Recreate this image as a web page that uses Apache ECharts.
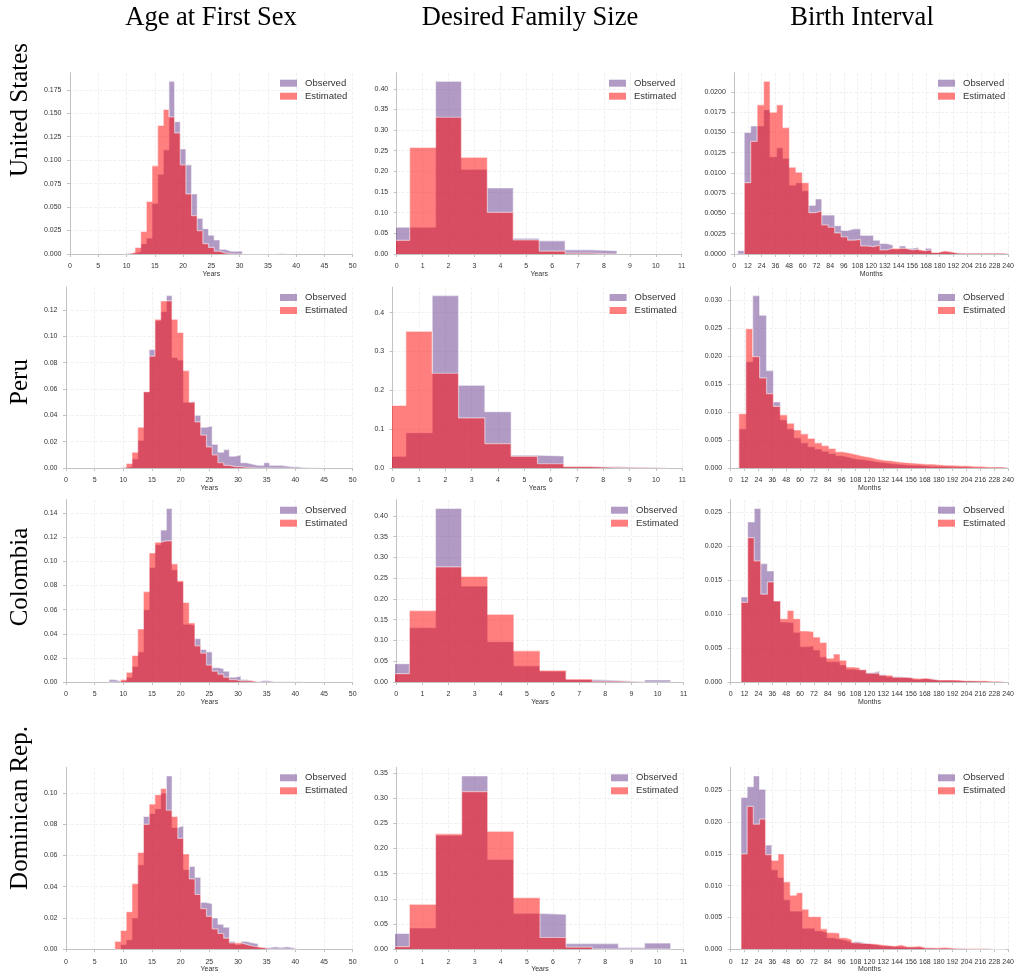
<!DOCTYPE html>
<html><head><meta charset="utf-8">
<script src="https://cdn.jsdelivr.net/npm/echarts@6/dist/echarts.min.js"></script>
<style>html,body{margin:0;padding:0;background:#fff}#c{width:1017px;height:974px}</style>
</head><body><div id="c"></div><script>
const countries = ['United States', 'Peru', 'Colombia', 'Dominican Rep.'];
const columnTitles = ['Age at First Sex', 'Desired Family Size', 'Birth Interval'];
const xNames = ['Years', 'Years', 'Months'];
const seriesNames = ['Observed', 'Estimated'];

// ---- Age at first sex (1-year bins) ----
const ageBinWidth = 1;
const ageBinStart = [9.5, 9.5, 7.5, 8.5];
const usAgeObs = [0.001,0.001,0.003,0.011,0.017,0.054,0.085,0.111,0.184,0.141,0.112,0.095,0.064,0.038,0.027,0.020,0.015,0.005,0.003,0.003,0.003,0,0,0,0,0,0,0.0005,0,0.0005];
const usAgeEst = [0,0.002,0.007,0.024,0.056,0.094,0.137,0.154,0.146,0.129,0.095,0.064,0.041,0.025,0.011,0.007,0.003,0.001,0.0005,0,0,0,0,0,0,0,0,0,0,0];
const peAgeObs = [0.0005,0.001,0.007,0.021,0.058,0.090,0.112,0.119,0.131,0.084,0.082,0.050,0.051,0.040,0.031,0.032,0.018,0.012,0.014,0.009,0.010,0.004,0.003,0.002,0.002,0.004,0.002,0.002,0.0015,0.001,0.001,0.0003,0.0002,0.0002,0.0005];
const peAgeEst = [0.0005,0.0035,0.012,0.031,0.058,0.085,0.113,0.127,0.127,0.113,0.103,0.074,0.050,0.035,0.025,0.016,0.010,0.004,0.002,0.001,0.001,0.0005,0.0003,0,0,0,0,0,0,0,0,0,0,0,0];
const coAgeObs = [0.002,0.0008,0.001,0.004,0.013,0.025,0.060,0.095,0.114,0.126,0.144,0.093,0.083,0.048,0.047,0.036,0.027,0.025,0.012,0.011,0.009,0.004,0.005,0.002,0.001,0.0003,0.0013,0.001,0.0003,0.0002,0.0002,0.0003,0.0005,0.001];
const coAgeEst = [0,0,0.002,0.008,0.022,0.044,0.075,0.107,0.116,0.117,0.117,0.098,0.084,0.066,0.049,0.030,0.024,0.014,0.009,0.0065,0.004,0.002,0.001,0.001,0.001,0,0,0,0,0,0,0,0,0];
const drAgeObs = [0,0.003,0.006,0.020,0.054,0.085,0.087,0.090,0.100,0.111,0.078,0.079,0.051,0.053,0.046,0.030,0.029,0.020,0.016,0.014,0.005,0.003,0.005,0.004,0.0035,0.001,0.001,0.0015,0.001,0.0015,0.001,0.0003];
const drAgeEst = [0.005,0.012,0.024,0.042,0.062,0.080,0.093,0.099,0.103,0.089,0.085,0.071,0.061,0.045,0.035,0.026,0.021,0.013,0.010,0.007,0.004,0.004,0.003,0.002,0.0015,0.001,0,0,0,0,0,0];

// ---- Desired family size (bins centred on integers) ----
const famBinStart = -0.5;
const famBinWidth = 1;
const usFamObs = [0.065,0.065,0.418,0.205,0.160,0.038,0.032,0.010,0.008];
const usFamEst = [0.033,0.258,0.331,0.234,0.101,0.034,0.007,0.002,0];
const peFamObs = [0.030,0.091,0.444,0.213,0.145,0.033,0.031,0.003,0.004,0.001,0.003];
const peFamEst = [0.161,0.352,0.244,0.129,0.063,0.030,0.011,0.004,0.001,0.001,0];
const coFamObs = [0.044,0.131,0.418,0.231,0.097,0.039,0.026,0.006,0.004,0,0.005];
const coFamEst = [0.020,0.172,0.277,0.254,0.163,0.075,0.028,0.007,0.002,0,0];
const drFamObs = [0.031,0.042,0.226,0.344,0.178,0.071,0.069,0.011,0.011,0.003,0.012];
const drFamEst = [0.005,0.089,0.229,0.313,0.234,0.102,0.023,0.004,0,0,0];

// ---- Birth interval (months) ----
const birthBinStart = [3, 7, 8.9, 8.9];
const birthBinWidth = [5.667, 6, 5.71, 5.33];
const usBirthObs = [0.0004,0.0150,0.0158,0.0158,0.0178,0.0120,0.0131,0.0118,0.0085,0.0088,0.0078,0.0060,0.0068,0.0048,0.0048,0.0035,0.0029,0.0031,0.0031,0.0023,0.0023,0.0017,0.0013,0.0011,0.0006,0.0010,0.0007,0.0008,0.0004,0.0007,0.0002,0.0003,0.0002,0.0002,0.0001,0.0001,0.0001,0.0001,0.0001,0.0001,0.0001,0.0001];
const usBirthEst = [0,0.0088,0.0139,0.0184,0.0213,0.0175,0.0184,0.0156,0.0107,0.0101,0.0088,0.0051,0.0053,0.0036,0.0033,0.0026,0.0021,0.0017,0.0018,0.0010,0.0009,0.0011,0.0005,0.0007,0.0007,0.0007,0.0005,0.0006,0.0004,0.0005,0.0002,0.0004,0.0003,0.0001,0.0001,0.0001,0.0001,0.0001,0.0001,0.0001,0.0001,0.0001];
const peBirthObs = [0.0070,0.0190,0.0308,0.0273,0.0174,0.0118,0.0086,0.0070,0.0054,0.0045,0.0038,0.0034,0.0030,0.0026,0.0022,0.0019,0.0016,0.0015,0.0013,0.0011,0.0010,0.0008,0.0007,0.0006,0.0005,0.0005,0.0004,0.0003,0.0003,0.0003,0.0002,0.0002,0.0002,0.0001,0.0001,0.0001,0.0001,0.0001,0];
const peBirthEst = [0.0097,0.0249,0.0199,0.0161,0.0133,0.0110,0.0095,0.0080,0.0068,0.0061,0.0053,0.0045,0.0040,0.0035,0.0029,0.0027,0.0024,0.0021,0.0019,0.0016,0.0014,0.0013,0.0011,0.0010,0.0009,0.0008,0.0007,0.0007,0.0006,0.0005,0.0005,0.0004,0.0004,0.0003,0.0003,0.0002,0.0002,0.0002,0.0001];
const coBirthObs = [0.0125,0.0235,0.0255,0.0174,0.0163,0.0119,0.0088,0.0087,0.0073,0.0052,0.0053,0.0047,0.0037,0.0030,0.0030,0.0025,0.0019,0.0018,0.0018,0.0014,0.0016,0.0011,0.0008,0.0008,0.0007,0.0007,0.0004,0.0005,0.0005,0.0003,0.0003,0.0003,0.0002,0.0002,0.0002,0.0001,0.0001,0.0001,0.0001,0.0001];
const coBirthEst = [0.0117,0.0212,0.0178,0.0129,0.0147,0.0119,0.0093,0.0105,0.0093,0.0075,0.0074,0.0066,0.0058,0.0035,0.0041,0.0032,0.0022,0.0021,0.0018,0.0013,0.0013,0.0010,0.0010,0.0007,0.0007,0.0006,0.0005,0.0006,0.0004,0.0003,0.0003,0.0003,0.0003,0.0002,0.0002,0.0002,0.0002,0.0001,0.0001,0.0001];
const drBirthObs = [0.0239,0.0256,0.0273,0.0252,0.0164,0.0125,0.0113,0.0078,0.0060,0.0060,0.0033,0.0033,0.0029,0.0026,0.0018,0.0016,0.0014,0.0011,0.0012,0.0010,0.0008,0.0007,0.0005,0.0005,0.0004,0.0004,0.0003,0.0003,0.0003,0.0002,0.0002,0.0001,0.0001,0.0001,0.0001,0.0001,0,0,0,0,0,0,0];
const drBirthEst = [0.0150,0.0225,0.0197,0.0205,0.0149,0.0140,0.0150,0.0106,0.0085,0.0089,0.0063,0.0051,0.0051,0.0032,0.0026,0.0025,0.0018,0.0015,0.0010,0.0009,0.0009,0.0008,0.0007,0.0006,0.0005,0.0007,0.0004,0.0004,0.0005,0.0002,0.0002,0.0002,0.0003,0.0002,0.0001,0.0001,0.0001,0.0001,0.0001,0.0001,0,0,0];

// tick settings
const xTickMin = [0, 0, 0];
const xTickMax = [50, 11, 240];
const xTickStep = [5, 1, 12];
const yTickStep = [[0.025,0.05,0.0025],[0.02,0.1,0.005],[0.02,0.05,0.005],[0.02,0.05,0.005]];
const yTickDecimals = [[3,2,4],[2,1,3],[2,2,3],[2,2,3]];

// ---- assemble ----
const obsData = [[usAgeObs,usFamObs,usBirthObs],[peAgeObs,peFamObs,peBirthObs],[coAgeObs,coFamObs,coBirthObs],[drAgeObs,drFamObs,drBirthObs]];
const estData = [[usAgeEst,usFamEst,usBirthEst],[peAgeEst,peFamEst,peBirthEst],[coAgeEst,coFamEst,coBirthEst],[drAgeEst,drFamEst,drBirthEst]];
const binStarts = r => [ageBinStart[r], famBinStart, birthBinStart[r]];
const binWidths = r => [ageBinWidth, famBinWidth, birthBinWidth[r]];

// layout (pixels)
const rowTop = [72.7, 287, 499.7, 767.3];
const rowBase = [254, 468, 682, 949.7];
const colLeft = [[70,396.7,734.3],[66,392.7,730.7],[66,396.3,730.7],[66,396.3,730.7]];
const colRight = [[352.7,681.7,1010.7],[352.7,682.3,1010.7],[352.7,683.7,1010.7],[352.7,683.7,1010.7]];
const titleX = [211, 530, 862];
const rowLabelY = [110, 382, 577, 808];

const purple = 'rgb(100,55,140)';
const red = 'rgb(255,0,0)';
const colors = [purple, red];
const legendColors = ['rgba(100,55,140,0.5)', 'rgba(255,0,0,0.5)'];
const sans = 'Liberation Sans';
const serif = 'Liberation Serif';

function stepPoints(start, width, vals) {
  const pts = [[start, 0]];
  vals.forEach((v, i) => pts.push([start + i * width, v]));
  const end = start + vals.length * width;
  pts.push([end, vals[vals.length - 1]]);
  pts.push([end, 0]);
  return pts;
}

const grid = [], xAxis = [], yAxis = [], series = [], legend = [], graphic = [];
let g = 0;
for (let r = 0; r < 4; r++) {
  for (let c = 0; c < 3; c++) {
    const left = colLeft[r][c], right = colRight[r][c];
    grid.push({left: left, top: rowTop[r], width: right - left, height: rowBase[r] - rowTop[r], containLabel: false});
    const obs = obsData[r][c], est = estData[r][c];
    const ymax = 1.05 * Math.max(Math.max(...obs), Math.max(...est));
    const dec = yTickDecimals[r][c];
    xAxis.push({
      type: 'value', gridIndex: g, min: xTickMin[c], max: xTickMax[c], interval: xTickStep[c],
      offset: 6, name: xNames[c], nameLocation: 'middle', nameGap: 9,
      nameTextStyle: {fontSize: 7, color: '#333', fontFamily: sans},
      axisLine: {show: true, lineStyle: {color: '#c2c2c2', width: 1}},
      axisTick: {show: true, length: 3, lineStyle: {color: '#c2c2c2'}},
      axisLabel: {fontSize: 7, color: '#333', fontFamily: sans, margin: 3},
      splitLine: {show: true, lineStyle: {color: '#ececec', type: 'dashed', width: 0.8}}
    });
    yAxis.push({
      type: 'value', gridIndex: g, min: 0, max: ymax, interval: yTickStep[r][c], offset: 5.5,
      axisLine: {show: true, lineStyle: {color: '#c2c2c2', width: 1}},
      axisTick: {show: true, length: 3, lineStyle: {color: '#c2c2c2'}},
      axisLabel: {fontSize: 7, color: '#333', fontFamily: sans, margin: 3, showMaxLabel: false,
        formatter: v => v.toFixed(dec)},
      splitLine: {show: true, showMaxLine: false, lineStyle: {color: '#ececec', type: 'dashed', width: 0.8}}
    });
    const starts = binStarts(r), widths = binWidths(r);
    [obs, est].forEach((vals, k) => {
      series.push({
        type: 'line', name: seriesNames[k], xAxisIndex: g, yAxisIndex: g,
        data: stepPoints(starts[c], widths[c], vals), step: 'end',
        symbol: 'none', showSymbol: false, silent: true, clip: true,
        color: colors[k],
        lineStyle: {color: 'rgba(255,255,255,0.5)', width: 1.2},
        areaStyle: {color: colors[k], opacity: 0.5},
        z: 2 + k
      });
    });
    legend.push({
      orient: 'vertical', left: right - 72.7, top: rowTop[r] + 5.5, padding: 0,
      itemWidth: 17, itemHeight: 7, itemGap: 3, icon: 'rect', selectedMode: false,
      textStyle: {fontSize: 9.5, color: '#333', fontFamily: sans, padding: [0, 0, 0, 3]},
      data: seriesNames.map((n, k) => ({name: n, itemStyle: {color: legendColors[k], borderWidth: 0}}))
    });
    g++;
  }
}
columnTitles.forEach((t, c) => graphic.push({type: 'text', x: titleX[c], y: 18,
  style: {text: t, fontSize: 26.5, fontFamily: serif, fill: '#000', align: 'center', verticalAlign: 'middle'}}));
countries.forEach((t, r) => graphic.push({type: 'text', x: 20, y: rowLabelY[r], rotation: Math.PI / 2,
  style: {text: t, fontSize: 25, fontFamily: serif, fill: '#000', align: 'center', verticalAlign: 'middle'}}));

const chart = echarts.init(document.getElementById('c'), null, {renderer: 'canvas'});
chart.setOption({animation: false, backgroundColor: '#fff', grid, xAxis, yAxis, series, legend, graphic});
</script></body></html>
